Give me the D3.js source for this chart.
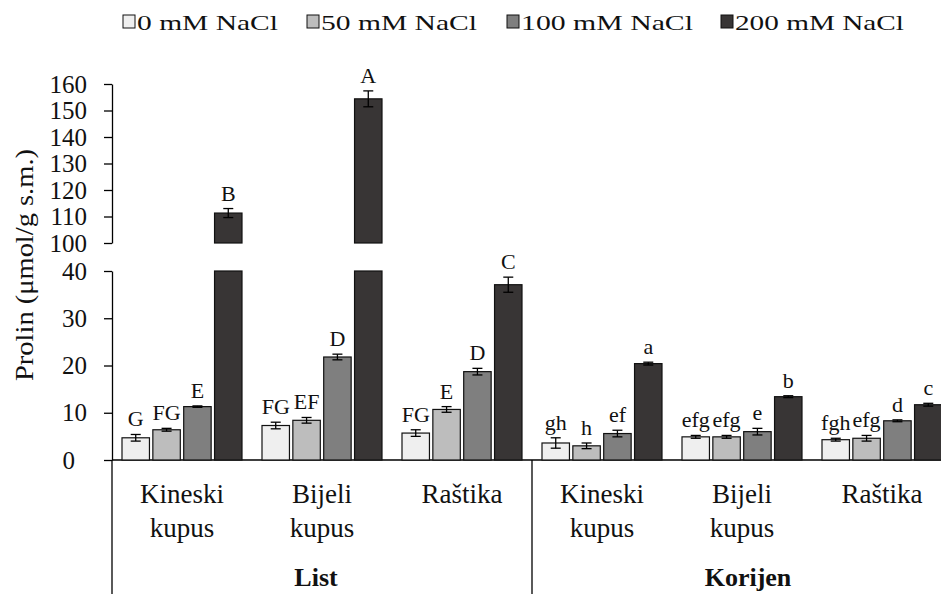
<!DOCTYPE html>
<html lang="hr">
  <head>
    <meta charset="UTF-8" />
    <title>Prolin – D3.js</title>
    <script src="https://d3js.org/d3.v7.min.js"></script>
    <style>
      body {
        margin: 0;
        background: #ffffff;
      }
      svg {
        display: block;
      }
      svg text {
        font-family: 'Liberation Serif', Tinos, 'Times New Roman', Times, 'DejaVu Serif', serif;
      }
      .axis path,
      .axis line {
        stroke: #000;
        stroke-width: 1.3;
      }
      .axis text {
        font-size: 25px;
        fill: #111;
        font-family: 'Liberation Serif', Tinos, 'Times New Roman', Times, 'DejaVu Serif', serif;
      }
    </style>
  </head>
  <body>
    <svg width="941" height="594"></svg>

    <script>
      // data
      const organs = ['List', 'Korijen'];
      const plants = ['Kineski kupus', 'Bijeli kupus', 'Raštika'];
      const series = ['0 mM NaCl', '50 mM NaCl', '100 mM NaCl', '200 mM NaCl'];

      const vals0 = [4.7, 7.3, 5.7, 3.6, 4.9, 4.3];
      const vals50 = [6.4, 8.4, 10.7, 3.0, 4.9, 4.6];
      const vals100 = [11.3, 21.8, 18.7, 5.6, 6.0, 8.3];
      const vals200 = [111.3, 154.4, 37.1, 20.4, 13.4, 11.7];

      const err0 = [0.7, 0.7, 0.7, 1.1, 0.3, 0.3];
      const err50 = [0.3, 0.6, 0.6, 0.6, 0.3, 0.6];
      const err100 = [0.15, 0.6, 0.7, 0.7, 0.7, 0.2];
      const err200 = [1.7, 3.0, 1.6, 0.3, 0.2, 0.3];

      const let0 = ['G', 'FG', 'FG', 'gh', 'efg', 'fgh'];
      const let50 = ['FG', 'EF', 'E', 'h', 'efg', 'efg'];
      const let100 = ['E', 'D', 'D', 'ef', 'e', 'd'];
      const let200 = ['B', 'A', 'C', 'a', 'b', 'c'];

      const lowTicks = [0, 10, 20, 30, 40];
      const highTicks = [100, 110, 120, 130, 140, 150, 160];

      const colors = ['#efefef', '#bdbdbd', '#7f7f7f', '#383535'];

      const vals = [vals0, vals50, vals100, vals200];
      const errs = [err0, err50, err100, err200];
      const lets = [let0, let50, let100, let200];

      // one key per category: organ + plant
      const cats = [];
      organs.forEach((o) => plants.forEach((p) => cats.push(o + '|' + p)));

      const rows = [];
      cats.forEach((c, i) => {
        series.forEach((s, j) => {
          rows.push({ cat: c, s: s, j: j, v: vals[j][i], e: errs[j][i], lab: lets[j][i] });
        });
      });

      const svg = d3.select('svg');
      const x0 = 112, xEnd = 952, yBase = 460, yBreakLow = 271, yBreakHigh = 243, yTop = 84;

      const x = d3.scaleBand().domain(cats).range([x0, xEnd]);
      const xi = d3.scaleBand().domain(series).range([10, x.bandwidth() - 10]).paddingInner(0.11);

      const yLow = d3.scaleLinear().domain([0, 40]).range([yBase, yBreakLow]);
      const yHigh = d3.scaleLinear().domain([100, 160]).range([yBreakHigh, yTop]);

      // axes
      const axLow = svg.append('g').attr('class', 'axis')
        .attr('transform', `translate(${x0},0)`)
        .call(d3.axisLeft(yLow).tickValues(lowTicks).tickSize(8).tickSizeOuter(0).tickPadding(17));
      axLow.selectAll('.tick text').filter((d) => d === 0).attr('dx', -12);

      svg.append('g').attr('class', 'axis')
        .attr('transform', `translate(${x0},0)`)
        .call(d3.axisLeft(yHigh).tickValues(highTicks).tickSize(8).tickSizeOuter(0).tickPadding(17));

      // base line and group separators
      svg.append('line')
        .attr('x1', x0).attr('x2', xEnd).attr('y1', yBase).attr('y2', yBase)
        .attr('stroke', '#000').attr('stroke-width', 1.3);
      [x0, x(cats[3]), xEnd].forEach((sx) => {
        svg.append('line')
          .attr('x1', sx).attr('x2', sx).attr('y1', yBase).attr('y2', 594)
          .attr('stroke', '#000').attr('stroke-width', 1.3);
      });

      const bx = (d) => x(d.cat) + xi(d.s);

      // lower panel bars
      svg.append('g').selectAll('rect').data(rows).join('rect')
        .attr('x', bx)
        .attr('y', (d) => yLow(Math.min(d.v, 40)))
        .attr('width', xi.bandwidth())
        .attr('height', (d) => yLow(0) - yLow(Math.min(d.v, 40)))
        .attr('fill', (d) => colors[d.j])
        .attr('stroke', '#111').attr('stroke-width', 1.2);

      // upper panel bars (values above the break)
      const tall = rows.filter((d) => d.v > 100);
      svg.append('g').selectAll('rect').data(tall).join('rect')
        .attr('x', bx)
        .attr('y', (d) => yHigh(d.v))
        .attr('width', xi.bandwidth())
        .attr('height', (d) => yHigh(100) - yHigh(d.v))
        .attr('fill', (d) => colors[d.j])
        .attr('stroke', '#111').attr('stroke-width', 1.2);

      const yOf = (v) => (v > 100 ? yHigh(v) : yLow(v));

      // error bars
      const eg = svg.append('g').attr('stroke', '#000').attr('stroke-width', 1.3);
      rows.forEach((d) => {
        const cx = bx(d) + xi.bandwidth() / 2;
        const yt = yOf(d.v + d.e), yb = yOf(d.v - d.e);
        eg.append('line').attr('x1', cx).attr('x2', cx).attr('y1', yt).attr('y2', yb);
        eg.append('line').attr('x1', cx - 5).attr('x2', cx + 5).attr('y1', yt).attr('y2', yt);
        eg.append('line').attr('x1', cx - 5).attr('x2', cx + 5).attr('y1', yb).attr('y2', yb);
      });

      // significance letters
      svg.append('g').selectAll('text').data(rows).join('text')
        .attr('x', (d) => bx(d) + xi.bandwidth() / 2)
        .attr('y', (d) => yOf(d.v + d.e) - 8)
        .attr('text-anchor', 'middle')
        .attr('font-size', 22)
        .attr('fill', '#111')
        .text((d) => d.lab);

      // category labels
      const cl = svg.append('g').selectAll('text').data(cats).join('text')
        .attr('text-anchor', 'middle')
        .attr('font-size', 27)
        .attr('fill', '#111');
      cl.each(function (c) {
        const words = c.split('|')[1].split(' ');
        const cx = x(c) + x.bandwidth() / 2;
        words.forEach((w, k) => {
          d3.select(this).append('tspan')
            .attr('x', cx).attr('y', 503 + k * 34).text(w);
        });
      });

      // organ labels
      svg.append('g').selectAll('text').data(organs).join('text')
        .attr('x', (o, i) => x(cats[i * 3 + 1]) + x.bandwidth() / 2 + (i === 0 ? -6 : 6))
        .attr('y', 586)
        .attr('text-anchor', 'middle')
        .attr('font-size', 26)
        .attr('font-weight', 'bold')
        .attr('fill', '#111')
        .text((o) => o);

      // y title
      svg.append('text')
        .attr('transform', 'translate(33,265) rotate(-90)')
        .attr('text-anchor', 'middle')
        .attr('font-size', 26)
        .attr('fill', '#111')
        .attr('textLength', 232)
        .attr('lengthAdjust', 'spacingAndGlyphs')
        .text('Prolin (μmol/g s.m.)');

      // legend
      const legX = [123, 307, 507, 721];
      const legW = [141, 156, 172, 169];
      const lg = svg.append('g').selectAll('g').data(series).join('g')
        .attr('transform', (s, i) => `translate(${legX[i]},15)`);
      lg.append('rect')
        .attr('width', 12).attr('height', 13)
        .attr('fill', (s, i) => colors[i])
        .attr('stroke', '#111').attr('stroke-width', 1);
      lg.append('text')
        .attr('x', 14).attr('y', 15)
        .attr('font-size', 22)
        .attr('fill', '#111')
        .attr('textLength', (s, i) => legW[i])
        .attr('lengthAdjust', 'spacingAndGlyphs')
        .text((s) => s);
    </script>
  </body>
</html>
